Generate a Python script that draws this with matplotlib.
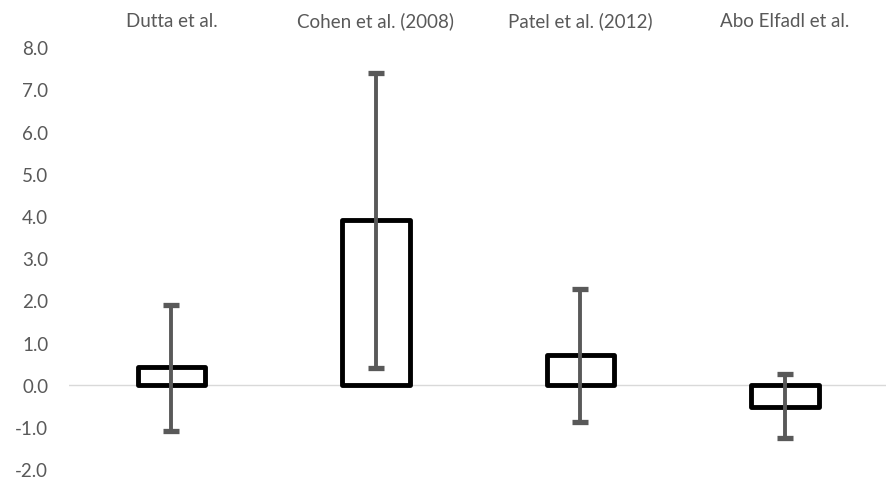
import matplotlib.pyplot as plt

studies = ["Dutta et al.", "Cohen et al. (2008)", "Patel et al. (2012)", "Abo Elfadl et al."]
effect = [0.42, 3.9, 0.7, -0.52]
err_low = [-1.1, 0.4, -0.88, -1.26]
err_high = [1.9, 7.38, 2.27, 0.25]

plt.rcParams['font.family'] = ['Lato', 'DejaVu Sans']

fig = plt.figure(figsize=(8.87, 4.81), dpi=100)
ax = fig.add_axes([0.078, 0.022, 0.922, 0.878])

x = list(range(len(studies)))
yerr = [[e - lo for e, lo in zip(effect, err_low)], [hi - e for e, hi in zip(effect, err_high)]]

bars = ax.bar(x, effect, width=0.33, facecolor="white", edgecolor="black", linewidth=3.5, zorder=2)
for b in bars:
    b.set_joinstyle("round")
ax.errorbar(x, effect, yerr=yerr, fmt="none", ecolor="#595959", elinewidth=2.8,
            capsize=6, capthick=3.8, zorder=3)

ax.axhline(0, color="#d9d9d9", linewidth=1, zorder=1)

ax.set_xlim(-0.5, 3.5)
ax.set_ylim(-2, 8)
ax.set_yticks(range(-2, 9))
ax.set_yticklabels([f"{v:.1f}" for v in range(-2, 9)])
ax.xaxis.tick_top()
ax.set_xticks(x)
ax.set_xticklabels(studies)
ax.tick_params(axis="both", length=0, labelsize=13.5, colors="#595959")
ax.tick_params(axis="x", pad=13)
ax.tick_params(axis="y", pad=15)
for s in ax.spines.values():
    s.set_visible(False)

fig.savefig("out.png", dpi=100)
